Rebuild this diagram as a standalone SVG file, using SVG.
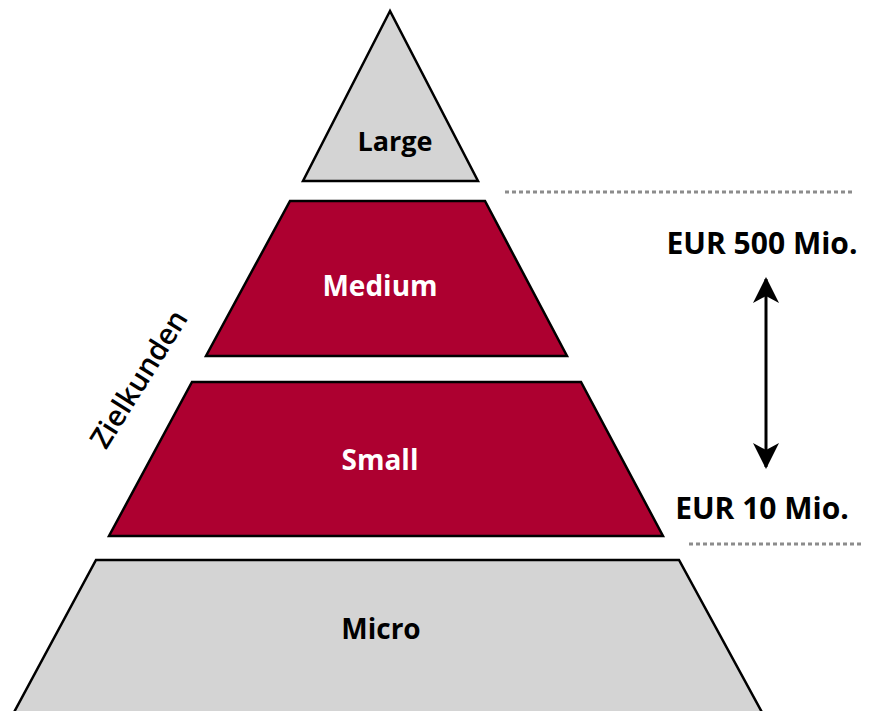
<svg xmlns="http://www.w3.org/2000/svg" width="872" height="711" viewBox="0 0 872 711">
<style>
.lvl{stroke:#000;stroke-width:2.5;stroke-linejoin:miter}
.grey{fill:#D4D4D4}
.red{fill:#AD0030}
.t{font-family:"Open Sans","Liberation Sans",sans-serif;font-weight:bold;font-size:28px;text-anchor:middle}
.dk{fill:#000}
.wh{fill:#fff}
.dot{stroke:#8c8c8c;stroke-width:3;stroke-dasharray:4 3;fill:none}
</style>
<defs>
<marker id="ah" viewBox="0 0 26 26" refX="24" refY="13" markerWidth="26" markerHeight="26" markerUnits="userSpaceOnUse" orient="auto-start-reverse">
<path d="M0,0 L26,13 L0,26 L7,13 Z" fill="#000"/>
</marker>
</defs>
<rect width="872" height="711" fill="#fff"/>
<g id="large">
<polygon class="lvl grey" points="390,11 303,181 478,181"/>
<text class="t dk" x="395" y="151" style="font-size:27px">Large</text>
</g>
<g id="medium">
<polygon class="lvl red" points="290,201 485,201 567,356 206,356"/>
<text class="t wh" x="380" y="296">Medium</text>
</g>
<g id="small">
<polygon class="lvl red" points="192,382 581,382 663,536 109,536"/>
<text class="t wh" x="380" y="470">Small</text>
</g>
<g id="micro">
<polygon class="lvl grey" points="96,560 679,560 764,716 12,716"/>
<text class="t dk" x="381" y="639">Micro</text>
</g>
<g id="labels">
<text class="t dk" x="762" y="254" style="font-size:30px">EUR 500 Mio.</text>
<text class="t dk" x="762" y="519" style="font-size:30px">EUR 10 Mio.</text>
<text x="0" y="0" transform="translate(139,379) rotate(-58)" dy="10" style="font-family:'Open Sans','Liberation Sans',sans-serif;font-size:29px;text-anchor:middle;font-weight:600" fill="#000">Zielkunden</text>
</g>
<g id="connectors">
<line class="dot" x1="505" y1="192" x2="852" y2="192"/>
<line class="dot" x1="689" y1="544" x2="862" y2="544"/>
<line x1="766" y1="279" x2="766" y2="467" stroke="#000" stroke-width="3" marker-start="url(#ah)" marker-end="url(#ah)"/>
</g>
</svg>
